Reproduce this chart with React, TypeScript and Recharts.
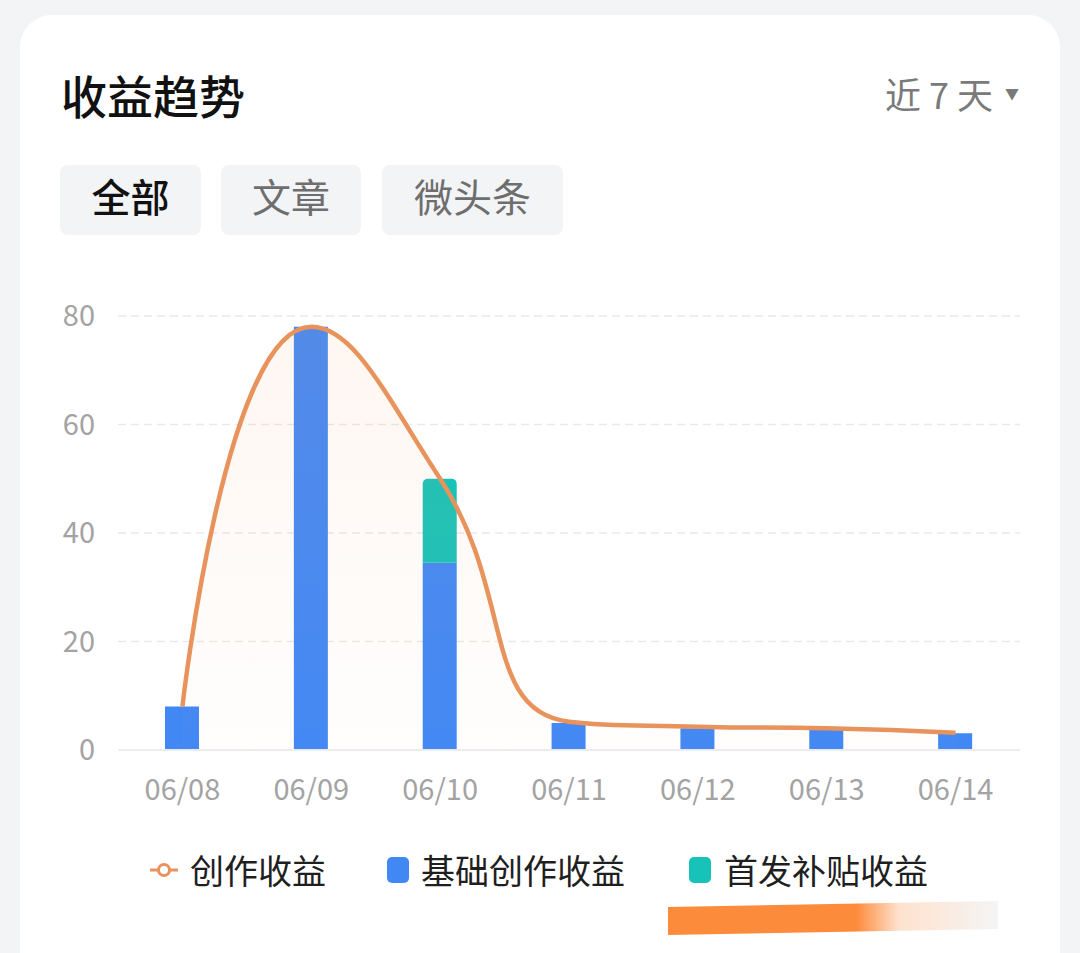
import React from "react";
import {
  Area,
  Bar,
  CartesianGrid,
  ComposedChart,
  XAxis,
  YAxis,
} from "recharts";

const dates = ["06/08", "06/09", "06/10", "06/11", "06/12", "06/13", "06/14"];
const baseIncome = [8, 78, 34.5, 5, 4, 3.7, 3.1];
const firstPubIncome = [0, 0, 15.5, 0, 0, 0, 0];
const creationIncome = [8, 78, 50, 5.2, 4.3, 4, 3.2];
const yTicks = [0, 20, 40, 60, 80];

const tabs = ["全部", "文章", "微头条"];

const FONT = "'Noto Sans CJK SC', 'Noto Sans', sans-serif";
const ORANGE = "#e8925c";
const BLUE = "#4288f5";
const TEAL = "#17c2b9";

const data = dates.map((d, i) => ({
  date: d,
  base: baseIncome[i],
  first: firstPubIncome[i],
  total: creationIncome[i],
}));

const tickStyle = { fill: "#a3a3a3", fontSize: 29, fontFamily: FONT };

// smooth curve with clamped control points (same feel as the source app's line)
const smoothCurve = (ctx: any) => {
  let line = NaN;
  let pts: number[][] = [];
  const SMOOTH = 0.5;
  const draw = () => {
    if (!pts.length) return;
    const [sx, sy] = pts[0];
    if (line) ctx.lineTo(sx, sy);
    else ctx.moveTo(sx, sy);
    let cpx0 = sx;
    let cpy0 = sy;
    for (let i = 1; i < pts.length; i++) {
      const [px, py] = pts[i - 1];
      const [x, y] = pts[i];
      let cpx1 = x;
      let cpy1 = y;
      let ncx = x;
      let ncy = y;
      if (i < pts.length - 1) {
        const [nx, ny] = pts[i + 1];
        let vx = nx - px;
        let vy = ny - py;
        const lp = Math.hypot(x - px, y - py);
        const ln = Math.hypot(nx - x, ny - y);
        if (lp > 0 && ln > 0) {
          const r = ln / (ln + lp);
          ncx = x + vx * SMOOTH * r;
          ncy = y + vy * SMOOTH * r;
          ncx = Math.max(Math.min(ncx, Math.max(nx, x)), Math.min(nx, x));
          ncy = Math.max(Math.min(ncy, Math.max(ny, y)), Math.min(ny, y));
          vx = ncx - x;
          vy = ncy - y;
          cpx1 = x - (vx * lp) / ln;
          cpy1 = y - (vy * lp) / ln;
          cpx1 = Math.max(Math.min(cpx1, Math.max(px, x)), Math.min(px, x));
          cpy1 = Math.max(Math.min(cpy1, Math.max(py, y)), Math.min(py, y));
          vx = x - cpx1;
          vy = y - cpy1;
          ncx = x + (vx * ln) / lp;
          ncy = y + (vy * ln) / lp;
        }
      }
      ctx.bezierCurveTo(cpx0, cpy0, cpx1, cpy1, x, y);
      cpx0 = ncx;
      cpy0 = ncy;
    }
  };
  return {
    areaStart() {
      line = 0;
    },
    areaEnd() {
      line = NaN;
    },
    lineStart() {
      pts = [];
    },
    lineEnd() {
      draw();
      if (line || (line !== 0 && pts.length === 1)) ctx.closePath();
      line = 1 - line;
    },
    point(x: number, y: number) {
      pts.push([+x, +y]);
    },
  };
};

const App: React.FC = () => {
  return (
    <div
      style={{
        position: "absolute",
        left: 0,
        top: 0,
        width: 1080,
        height: 953,
        background: "#f3f4f6",
        overflow: "hidden",
        fontFamily: FONT,
      }}
    >
      <div
        style={{
          position: "absolute",
          left: 20,
          top: 15,
          width: 1040,
          height: 980,
          background: "#ffffff",
          borderRadius: 32,
        }}
      />

      {/* header */}
      <div
        style={{
          position: "absolute",
          left: 61,
          top: 64,
          fontSize: 46,
          lineHeight: "60px",
          fontWeight: 500,
          color: "#111",
        }}
      >
        收益趋势
      </div>
      <div
        style={{
          position: "absolute",
          right: 61,
          top: 68,
          fontSize: 36,
          lineHeight: "50px",
          color: "#7a7a7a",
          display: "flex",
          alignItems: "center",
        }}
      >
        <span>近 7 天</span>
        <span style={{ fontSize: 14, marginLeft: 12 }}>▼</span>
      </div>

      {/* tabs */}
      {tabs.map((t, i) => {
        const lefts = [60, 221, 382];
        const widths = [141, 140, 181];
        return (
          <div
            key={t}
            style={{
              position: "absolute",
              left: lefts[i],
              top: 165,
              width: widths[i],
              height: 70,
              borderRadius: 8,
              background: "#f3f4f6",
              fontSize: 39,
              lineHeight: "60px",
              textAlign: "center",
              color: i === 0 ? "#111" : "#6e6e6e",
              fontWeight: i === 0 ? 500 : 400,
            }}
          >
            {t}
          </div>
        );
      })}

      {/* chart */}
      <div style={{ position: "absolute", left: 0, top: 290 }}>
        <ComposedChart
          width={1060}
          height={520}
          data={data}
          margin={{ top: 26, right: 40, left: 0, bottom: 0 }}
        >
          <defs>
            <linearGradient id="incomeFill" x1="0" y1="0" x2="0" y2="1">
              <stop offset="0%" stopColor="#f5a46c" stopOpacity={0.16} />
              <stop offset="100%" stopColor="#f5a46c" stopOpacity={0.02} />
            </linearGradient>
          </defs>
          <CartesianGrid
            vertical={false}
            stroke="#e9e9e9"
            strokeDasharray="8 5"
            strokeWidth={1.5}
          />
          <XAxis
            dataKey="date"
            tick={tickStyle}
            tickLine={false}
            axisLine={{ stroke: "#ececec", strokeWidth: 2 }}
            tickMargin={23}
            height={60}
            interval={0}
          />
          <YAxis
            width={118}
            domain={[0, 80]}
            ticks={yTicks}
            tick={tickStyle}
            tickLine={false}
            axisLine={false}
            tickMargin={17}
          />
          <Bar
            dataKey="base"
            stackId="s"
            fill={BLUE}
            barSize={34}
            isAnimationActive={false}
          />
          <Bar
            dataKey="first"
            stackId="s"
            fill={TEAL}
            barSize={34}
            radius={[5, 5, 0, 0]}
            isAnimationActive={false}
          />
          <Area
            type={smoothCurve as any}
            dataKey="total"
            stroke={ORANGE}
            strokeWidth={4.5}
            fill="url(#incomeFill)"
            dot={false}
            activeDot={false}
            zIndex={350}
            isAnimationActive={false}
          />
        </ComposedChart>
      </div>

      {/* legend */}
      <div
        style={{
          position: "absolute",
          left: 148,
          top: 847,
          display: "flex",
          alignItems: "center",
          fontSize: 34,
          lineHeight: "46px",
          color: "#1f1f1f",
        }}
      >
        <svg width={32} height={20} style={{ marginRight: 10 }}>
          <line x1={2} y1={10} x2={30} y2={10} stroke={ORANGE} strokeWidth={3} />
          <circle cx={16} cy={10} r={5.5} fill="#fff" stroke={ORANGE} strokeWidth={3} />
        </svg>
        <span>创作收益</span>
        <span
          style={{
            display: "inline-block",
            width: 22,
            height: 26,
            borderRadius: 5,
            background: BLUE,
            marginLeft: 61,
            marginRight: 12,
          }}
        />
        <span>基础创作收益</span>
        <span
          style={{
            display: "inline-block",
            width: 22,
            height: 26,
            borderRadius: 5,
            background: TEAL,
            marginLeft: 64,
            marginRight: 13,
          }}
        />
        <span>首发补贴收益</span>
      </div>

      {/* watermark smear */}
      <div
        style={{
          position: "absolute",
          left: 668,
          top: 904,
          width: 330,
          height: 28,
          transform: "skewY(-1deg)",
          background:
            "linear-gradient(90deg, #fd8b3c 0%, #fd8b3c 57%, rgba(253,139,60,0.25) 70%, rgba(225,225,225,0.35) 100%)",
        }}
      />
    </div>
  );
};

export default App;
